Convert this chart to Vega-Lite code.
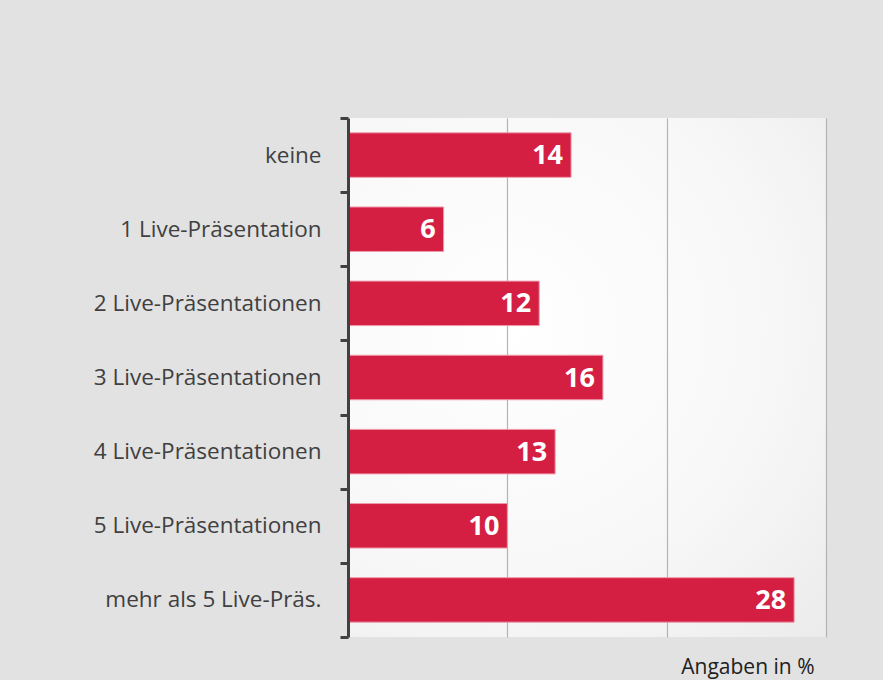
{
  "$schema": "https://vega.github.io/schema/vega-lite/v6.json",
  "autosize": {"type": "none"},
  "width": 478,
  "height": 519,
  "padding": {"left": 348, "top": 118, "right": 57, "bottom": 43},
  "background": "#e2e2e2",
  "view": {"fill": {"gradient": "radial", "x1": 0.35, "y1": 0.4, "x2": 0.35, "y2": 0.4, "r1": 0, "r2": 0.95, "stops": [{"offset": 0, "color": "#ffffff"}, {"offset": 0.55, "color": "#f7f7f7"}, {"offset": 1, "color": "#e8e8e8"}]}, "stroke": null},
  "data": {"values": [
    {"cat": "keine", "v": 14},
    {"cat": "1 Live-Präsentation", "v": 6},
    {"cat": "2 Live-Präsentationen", "v": 12},
    {"cat": "3 Live-Präsentationen", "v": 16},
    {"cat": "4 Live-Präsentationen", "v": 13},
    {"cat": "5 Live-Präsentationen", "v": 10},
    {"cat": "mehr als 5 Live-Präs.", "v": 28}
  ]},
  "encoding": {
    "y": {"field": "cat", "type": "nominal", "sort": null,
      "scale": {"paddingInner": 0, "paddingOuter": 0},
      "axis": {"title": null, "domainColor": "#404040", "domainWidth": 3, "tickColor": "#404040", "tickWidth": 3, "tickSize": 8, "tickBand": "extent", "labelFont": "Open Sans", "labelFontSize": 22.5, "labelColor": "#404040", "labelPadding": 19, "labelLimit": 400, "zindex": 2}},
    "x": {"field": "v", "type": "quantitative",
      "scale": {"domain": [0, 30], "nice": false},
      "axis": {"values": [10, 20, 30], "labels": false, "ticks": false, "domain": false, "grid": true, "gridColor": "#b4b4b4", "gridWidth": 1.2, "title": "Angaben in %", "titleFont": "Open Sans", "titleFontSize": 21, "titleFontWeight": "normal", "titleColor": "#202020", "titleAlign": "right", "titleAnchor": null, "titleX": 466, "titleY": 36, "titleBaseline": "alphabetic"}}
  },
  "layer": [
    {"mark": {"type": "bar", "color": "#d41f42", "stroke": "#ee9aaa", "strokeWidth": 1, "height": {"band": 0.6}}},
    {"mark": {"type": "text", "align": "right", "baseline": "middle", "dx": -8, "dy": 1, "color": "white", "font": "Open Sans", "fontSize": 27, "fontWeight": "bold"},
      "encoding": {"text": {"field": "v", "type": "quantitative"}}}
  ]
}
